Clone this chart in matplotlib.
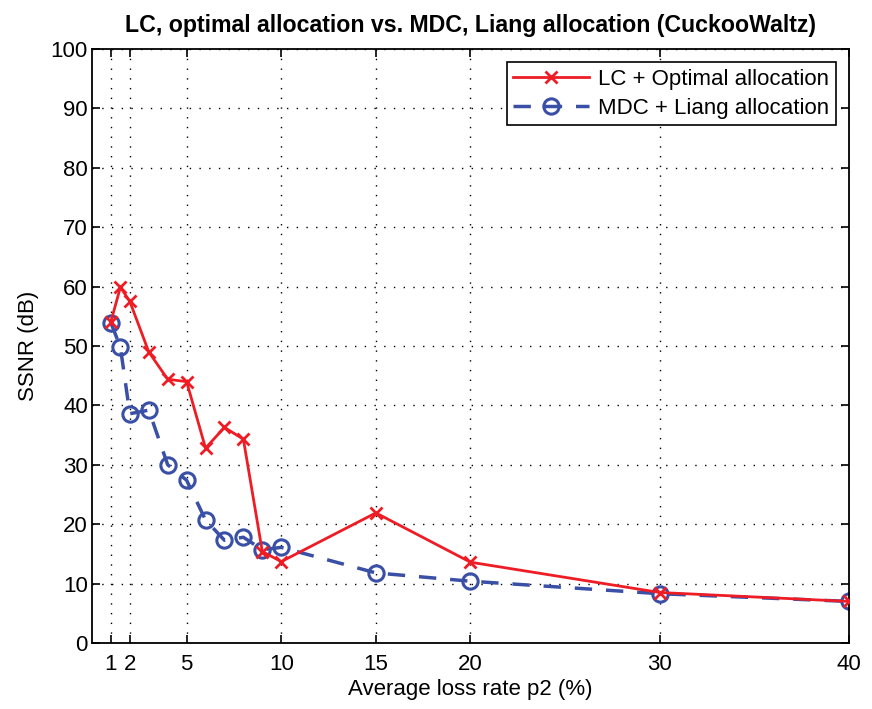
import matplotlib
matplotlib.use("Agg")
import matplotlib.pyplot as plt

plt.rcParams['font.family'] = ['Liberation Sans', 'DejaVu Sans']

loss_rate = [1, 1.5, 2, 3, 4, 5, 6, 7, 8, 9, 10, 15, 20, 30, 40]
lc_optimal = [54.1, 59.9, 57.5, 49.0, 44.4, 44.0, 32.8, 36.3, 34.3, 15.4, 13.7, 21.9, 13.6, 8.5, 7.0]
mdc_liang = [53.9, 49.8, 38.6, 39.2, 30.0, 27.4, 20.7, 17.3, 17.8, 15.7, 16.1, 11.8, 10.4, 8.3, 7.0]
xticks = [1, 2, 5, 10, 15, 20, 30, 40]
yticks = list(range(0, 101, 10))

fig = plt.figure(figsize=(8.72, 7.09), dpi=100)
ax = fig.add_axes([0.1055, 0.0931, 0.8681, 0.8378])

ax.plot(loss_rate, lc_optimal, color='#ee1c24', lw=2, marker='x', ms=9, mew=2,
        label='LC + Optimal allocation', zorder=3)
ax.plot(loss_rate, mdc_liang, color='#3a4fa6', lw=2.5, ls=(0, (5, 4)), marker='o', ms=11,
        mfc='none', mew=2.2, label='MDC + Liang allocation', zorder=2)

ax.set_xlim(0, 40)
ax.set_ylim(0, 100)
ax.set_xticks(xticks)
ax.set_yticks(yticks)
ax.tick_params(direction='in', top=True, right=True, labelsize=16, length=6, width=1.2)
ax.tick_params(axis='x', pad=8)
ax.tick_params(axis='y', pad=3)
ax.grid(True, color='black', ls=(0, (1, 6)), lw=1)
for s in ax.spines.values():
    s.set_linewidth(1.3)

ax.set_xlabel('Average loss rate p2 (%)', fontsize=16, labelpad=3)
ax.set_ylabel('SSNR (dB)', fontsize=16, labelpad=8)
ax.set_title('LC, optimal allocation vs. MDC, Liang allocation (CuckooWaltz)',
             fontsize=16.7, fontweight='bold', pad=12)

leg = ax.legend(loc='upper right', fontsize=16, fancybox=False, framealpha=1,
                edgecolor='black', borderpad=0.3, handlelength=3.4, labelspacing=0.35,
                borderaxespad=0.6, handletextpad=0.4)
leg.get_frame().set_linewidth(1.2)

fig.savefig('out.png', dpi=100)
